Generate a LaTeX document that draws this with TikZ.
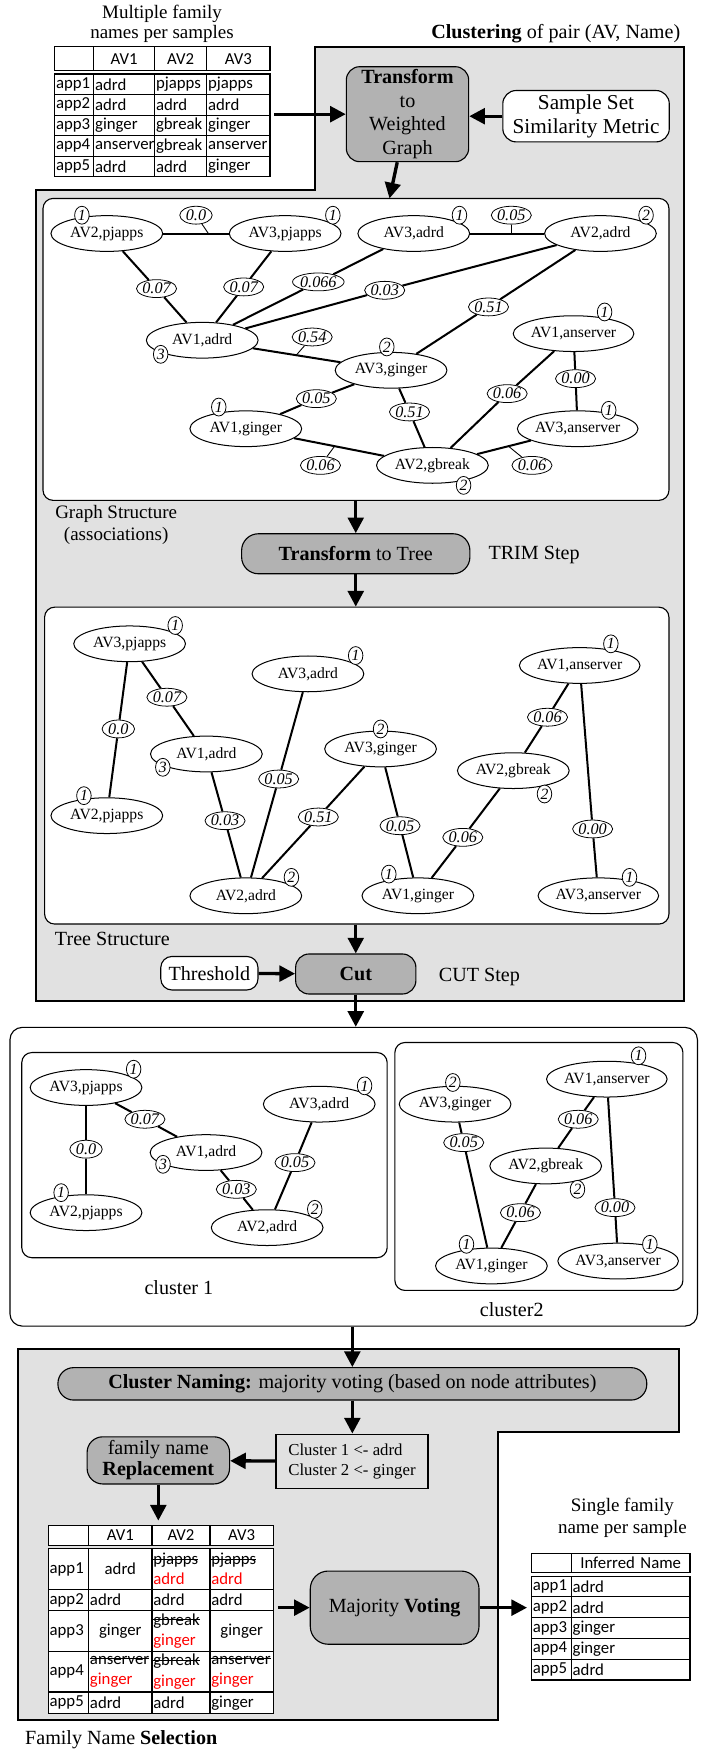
\documentclass[tikz,border=0pt]{standalone}
\usepackage{fontspec}
\setmainfont{Liberation Serif}
\newfontfamily\tabfont{Carlito}
\usetikzlibrary{shapes.geometric, arrows.meta, matrix}
\definecolor{panelgray}{RGB}{225,225,225}
\definecolor{stepgray}{RGB}{178,178,178}
\newlength{\strikelen}
\newcommand{\struck}[1]{\settowidth{\strikelen}{#1}\rlap{\rule[0.3em]{\strikelen}{0.9pt}}#1}
\tikzset{
  avnode/.style={ellipse, draw, line width=0.9pt, fill=white, inner xsep=0pt, inner ysep=2pt,
    minimum width=100, minimum height=32, font=\fontsize{14}{16}\selectfont},
  wlab/.style={ellipse, draw, line width=0.7pt, fill=white, inner sep=0pt, minimum width=29,
    minimum height=16, font=\fontsize{14.5}{15}\selectfont\itshape},
  badge/.style={ellipse, draw, line width=0.7pt, fill=white, inner sep=0pt, minimum width=13,
    minimum height=16, font=\fontsize{14}{15}\selectfont\itshape},
  link/.style={line width=1.8pt},
  tickline/.style={line width=0.8pt},
  arr/.style={line width=3pt, -{Triangle[length=14pt,width=14pt]}},
  panel/.style={draw, fill=panelgray, line width=1.8pt},
  inbox/.style={draw, fill=white, rounded corners=9pt, line width=1pt, inner sep=0pt},
  stepbox/.style={draw, fill=stepgray, rounded corners=12pt, line width=1pt, inner sep=1pt,
    align=center, font=\fontsize{18}{21}\selectfont},
  whitebox/.style={stepbox, fill=white},
  bigtxt/.style={inner sep=0pt, align=center, font=\fontsize{18}{20}\selectfont},
  tabcell/.style={draw, fill=white, line width=1pt, anchor=center, inner xsep=1.2pt, inner ysep=0pt,
    align=left, font=\tabfont\fontsize{15}{16.5}\selectfont},
}
\begin{document}
\begin{tikzpicture}[x=1pt, y=-1pt]
\useasboundingbox (0,0) rectangle (635,1568);

% panels
\draw[panel] (281.7,41.8) -- (612,41.8) -- (612,896) -- (32,896) -- (32,170.2) -- (281.7,170.2) -- cycle;
\draw[panel] (16.2,1207.6) -- (608,1207.6) -- (608,1282) -- (445.8,1282) -- (445.8,1539.4) -- (16.2,1539.4) -- cycle;

\node[inbox, minimum width=560.2, minimum height=270.2] (graphbox) at (318.6,312.7) {};
\node[inbox, minimum width=558.8, minimum height=283.6] (treebox) at (319.3,685.2) {};
\node[inbox, minimum width=615.3, minimum height=267.3, rounded corners=11pt] (clusters) at (316.55,1053.15) {};
\node[inbox, minimum width=327, minimum height=183.6] (clu1) at (183,1033.8) {};
\node[inbox, minimum width=257.8, minimum height=221.9] (clu2) at (482.3,1043.95) {};

% titles
\node[bigtxt, font=\fontsize{17}{18}\selectfont] (t1title) at (145,21) {Multiple family\\names per samples};
\node[bigtxt, anchor=east] (cltitle) at (609,30) {\textbf{Clustering} of pair (AV, Name)};
\node[bigtxt, font=\fontsize{17}{19.5}\selectfont] (gstruct) at (104,469.5) {Graph Structure\\(associations)};
\node[bigtxt, anchor=west] (trim) at (437,497) {TRIM Step};
\node[bigtxt, anchor=west] (tstruct) at (49,840.4) {Tree Structure};
\node[bigtxt, anchor=west] (cutstep) at (392.6,874.7) {CUT Step};
\node[bigtxt] (c1name) at (160.1,1152.5) {cluster 1};
\node[bigtxt] (c2name) at (458,1171.9) {cluster2};
\node[bigtxt, font=\fontsize{17}{19}\selectfont] (t3title) at (557,1358.5) {Single family\\name per sample};
\node[bigtxt, anchor=west] (fnsel) at (22.3,1556.6) {Family Name \textbf{Selection}};

% input table
\matrix (tab1) [matrix of nodes, nodes in empty cells, anchor=north west, column sep=-1pt, row sep=-1pt,
  nodes={tabcell, minimum height=18.4},
  row 1/.style={nodes={minimum height=21.5, align=center}},
  column 1/.style={nodes={text width=32.6}},
  column 2/.style={nodes={text width=52.1}},
  column 3/.style={nodes={text width=44.2}},
  column 4/.style={nodes={text width=54.2}}] at (44.9,37.7) {
       & AV1      & AV2    & AV3      \\[3pt]
  app1 &[3pt] adrd & pjapps & pjapps   \\
  app2 & adrd     & adrd   & adrd     \\
  app3 & ginger   & gbreak & ginger   \\
  app4 & anserver & gbreak & anserver \\
  app5 & adrd     & adrd   & ginger   \\
};

% steps
\node[stepbox, minimum width=109.5, minimum height=85] (transform) at (364.7,102.2) {\textbf{Transform}\\to\\Weighted\\Graph};
\node[whitebox, minimum width=149, minimum height=46, font=\fontsize{19}{21}\selectfont] (sample) at (524.5,104) {Sample Set\\Similarity Metric};
\node[stepbox, minimum width=204.3, minimum height=35.8, rounded corners=15pt] (ttt) at (318.4,495.6) {\textbf{Transform} to Tree};
\node[whitebox, minimum width=87, minimum height=30, rounded corners=10pt] (threshold) at (187.4,871) {Threshold};
\node[stepbox, minimum width=107.6, minimum height=35.8] (cut) at (318.4,871.7) {\textbf{Cut}};
\coordinate (gin) at (348.6,177.6);

% weighted graph
\node[avnode] (gpj2) at (95.6,209) {AV2,pjapps};
\node[avnode] (gpj3) at (255.2,209) {AV3,pjapps};
\node[avnode] (gad3) at (370.3,209) {AV3,adrd};
\node[avnode] (gad2) at (537.4,209) {AV2,adrd};
\node[avnode] (gad1) at (181,304.5) {AV1,adrd};
\node[avnode] (ggi3) at (350,331.4) {AV3,ginger};
\node[avnode] (gan1) at (513.3,298.6) {AV1,anserver};
\node[avnode] (ggi1) at (220,383.7) {AV1,ginger};
\node[avnode] (gan3) at (517,383.7) {AV3,anserver};
\node[avnode] (ggb2) at (387,416.5) {AV2,gbreak};

\node[wlab] (gw1) at (175.4,192.6) {0.0};
\node[wlab] (gw2) at (457.6,192.6) {0.05};
\node[wlab] (gw3) at (140.1,258.3) {0.07};
\node[wlab] (gw4) at (218.1,256.8) {0.07};
\node[wlab] (gw5) at (284.9,252.3) {0.066};
\node[wlab] (gw6) at (344.3,259.8) {0.03};
\node[wlab] (gw7) at (437.2,274.7) {0.51};
\node[wlab] (gw8) at (279.4,301.6) {0.54};
\node[wlab] (gw9) at (283.1,356.8) {0.05};
\node[wlab] (gw10) at (366.5,368.7) {0.51};
\node[wlab] (gw11) at (453.9,352.3) {0.06};
\node[wlab] (gw12) at (515.1,338.9) {0.00};
\node[wlab] (gw13) at (286.8,416.5) {0.06};
\node[wlab] (gw14) at (476.1,416.5) {0.06};
\coordinate (gk1) at (186.5,209);
\coordinate (gk2) at (457.6,209);
\coordinate (gk8) at (265,318);
\coordinate (gk13) at (299.5,399.3);
\coordinate (gk14) at (455,399.3);

\draw[link] (gpj2) -- (gpj3);
\draw[link] (gad3) -- (gad2);
\draw[link] (gpj2) -- (gw3) -- (gad1);
\draw[link] (gpj3) -- (gw4) -- (gad1);
\draw[link] (gad3) -- (gw5) -- (gad1);
\draw[link] (gad2) -- (gw6) -- (gad1);
\draw[link] (gad2) -- (gw7) -- (ggi3);
\draw[link] (gad1) -- (ggi3);
\draw[link] (ggi3) -- (gw9) -- (ggi1);
\draw[link] (ggi3) -- (gw10) -- (ggb2);
\draw[link] (gan1) -- (gw11) -- (ggb2);
\draw[link] (gan1) -- (gw12) -- (gan3);
\draw[link] (ggi1) -- (ggb2);
\draw[link] (gan3) -- (ggb2);
\draw[tickline] (gw1) -- (gk1);
\draw[tickline] (gw2) -- (gk2);
\draw[tickline] (gw8) -- (gk8);
\draw[tickline] (gw13) -- (gk13);
\draw[tickline] (gw14) -- (gk14);

\node[badge] (gb1) at (73.3,192.6) {1};
\node[badge] (gb2) at (297.9,192.6) {1};
\node[badge] (gb3) at (411.2,192.6) {1};
\node[badge] (gb4) at (578.2,192.6) {2};
\node[badge] (gb5) at (143.8,317.1) {3};
\node[badge] (gb6) at (346.2,310.5) {2};
\node[badge] (gb7) at (541.1,279.2) {1};
\node[badge] (gb8) at (195.8,364.3) {1};
\node[badge] (gb9) at (544.8,367.2) {1};
\node[badge] (gb10) at (414.9,434.4) {2};

% tree
\node[avnode] (tpj3) at (116,576.2) {AV3,pjapps};
\node[avnode] (tpj2) at (95.6,730) {AV2,pjapps};
\node[avnode] (tad1) at (184.7,674.8) {AV1,adrd};
\node[avnode] (tad3) at (275.6,603.1) {AV3,adrd};
\node[avnode] (tad2) at (220,801.7) {AV2,adrd};
\node[avnode] (tgi3) at (340.6,670.3) {AV3,ginger};
\node[avnode] (tgi1) at (374,801.7) {AV1,ginger};
\node[avnode] (tgb2) at (459.4,689.7) {AV2,gbreak};
\node[avnode] (tan1) at (518.8,595.6) {AV1,anserver};
\node[avnode] (tan3) at (535.5,801.7) {AV3,anserver};

\node[wlab] (tw1) at (105.9,652.4) {0.0};
\node[wlab] (tw2) at (149.4,624) {0.07};
\node[wlab] (tw3) at (201.4,734.5) {0.03};
\node[wlab] (tw4) at (249.4,697.2) {0.05};
\node[wlab] (tw5) at (284.9,731.2) {0.51};
\node[wlab] (tw6) at (358,739) {0.05};
\node[wlab] (tw7) at (414.2,749.4) {0.06};
\node[wlab] (tw8) at (490,641.9) {0.06};
\node[wlab] (tw9) at (530.4,741.9) {0.00};

\draw[link] (tpj3) -- (tw1) -- (tpj2);
\draw[link] (tpj3) -- (tw2) -- (tad1);
\draw[link] (tad1) -- (tw3) -- (tad2);
\draw[link] (tad3) -- (tw4) -- (tad2);
\draw[link] (tgi3) -- (tw5) -- (tad2);
\draw[link] (tgi3) -- (tw6) -- (tgi1);
\draw[link] (tgb2) -- (tw7) -- (tgi1);
\draw[link] (tan1) -- (tw8) -- (tgb2);
\draw[link] (tan1) -- (tw9) -- (tan3);

\node[badge] (tb1) at (156.8,559.8) {1};
\node[badge] (tb2) at (75.1,712.1) {1};
\node[badge] (tb3) at (145.7,686.7) {3};
\node[badge] (tb4) at (318.3,586.7) {1};
\node[badge] (tb5) at (260.8,785.2) {2};
\node[badge] (tb6) at (340.6,652.4) {2};
\node[badge] (tb7) at (348,782.3) {1};
\node[badge] (tb8) at (487.3,710.6) {2};
\node[badge] (tb9) at (546.7,576.2) {1};
\node[badge] (tb10) at (563.4,785.2) {1};

% clusters
\node[avnode] (cpj3) at (77,973.3) {AV3,pjapps};
\node[avnode] (cpj2) at (77,1085.3) {AV2,pjapps};
\node[avnode] (cad1) at (184.4,1031.5) {AV1,adrd};
\node[avnode] (cad3) at (285.7,988.2) {AV3,adrd};
\node[avnode] (cad2) at (239.1,1098.7) {AV2,adrd};
\node[avnode] (cgi3) at (407.3,988.2) {AV3,ginger};
\node[avnode] (can1) at (543.1,965.8) {AV1,anserver};
\node[avnode] (cgb2) at (488.4,1043.5) {AV2,gbreak};
\node[avnode] (cgi1) at (439.8,1133) {AV1,ginger};
\node[avnode] (can3) at (553.2,1128.6) {AV3,anserver};

\node[wlab] (cw1) at (77,1028.5) {0.0};
\node[wlab] (cw2) at (129.7,1001.7) {0.07};
\node[wlab] (cw3) at (211.5,1064.4) {0.03};
\node[wlab] (cw4) at (264,1040.5) {0.05};
\node[wlab] (cw5) at (415,1022.6) {0.05};
\node[wlab] (cw6) at (517.5,1001.7) {0.06};
\node[wlab] (cw7) at (465.8,1085.3) {0.06};
\node[wlab] (cw8) at (550.4,1080.8) {0.00};

\draw[link] (cpj3) -- (cw1) -- (cpj2);
\draw[link] (cpj3) -- (cw2) -- (cad1);
\draw[link] (cad1) -- (cw3) -- (cad2);
\draw[link] (cad3) -- (cw4) -- (cad2);
\draw[link] (cgi3) -- (cw5) -- (cgi1);
\draw[link] (can1) -- (cw6) -- (cgb2);
\draw[link] (cgb2) -- (cw7) -- (cgi1);
\draw[link] (can1) -- (cw8) -- (can3);

\node[badge] (cb1) at (119.6,956.9) {1};
\node[badge] (cb2) at (54.7,1067.4) {1};
\node[badge] (cb3) at (145.9,1042) {3};
\node[badge] (cb4) at (326.3,971.8) {1};
\node[badge] (cb5) at (281.7,1082.3) {2};
\node[badge] (cb6) at (405.3,968.8) {2};
\node[badge] (cb7) at (571.5,944.9) {1};
\node[badge] (cb8) at (516.8,1064.4) {2};
\node[badge] (cb9) at (417.5,1113.6) {1};
\node[badge] (cb10) at (581.6,1113.6) {1};

% family name selection
\node[stepbox, minimum width=527, minimum height=29, rounded corners=14pt] (naming) at (315.35,1238.5) {\textbf{Cluster Naming:} majority voting (based on node attributes)};
\node[draw, line width=1pt, fill=panelgray, minimum width=136, minimum height=49, align=left, font=\fontsize{15}{18}\selectfont] (clustxt) at (315,1308) {Cluster 1 <- adrd\\Cluster 2 <- ginger};
\node[stepbox, minimum width=127.5, minimum height=42.2, rounded corners=14pt, font=\fontsize{18}{19}\selectfont] (repl) at (141.7,1307) {family name\\\textbf{Replacement}};
\node[stepbox, minimum width=151, minimum height=65.5, rounded corners=16pt] (mv) at (353.2,1438.8) {Majority \textbf{Voting}};

\matrix (tab2) [matrix of nodes, nodes in empty cells, anchor=north west, column sep=-1pt, row sep=-1pt,
  nodes={tabcell, font=\tabfont\fontsize{15}{18}\selectfont},
  row 1/.style={nodes={minimum height=17.9, align=center}},
  row 2/.style={nodes={minimum height=36.9}},
  row 3/.style={nodes={minimum height=18.7}},
  row 4/.style={nodes={minimum height=36.4}},
  row 5/.style={nodes={minimum height=36.5}},
  row 6/.style={nodes={minimum height=19.4}},
  column 1/.style={nodes={text width=33.7}},
  column 2/.style={nodes={text width=54.3}},
  column 3/.style={nodes={text width=49.5}},
  column 4/.style={nodes={text width=54.4}}] at (39.2,1360.9) {
       & AV1 & AV2 & AV3 \\[3pt]
  app1 & |[align=center]| adrd & {\struck{pjapps}\\\textcolor{red}{adrd}} & {\struck{pjapps}\\\textcolor{red}{adrd}} \\
  app2 & adrd & adrd & adrd \\
  app3 & |[align=center]| ginger & {\struck{gbreak}\\\textcolor{red}{ginger}} & |[align=center]| ginger \\
  app4 & {\struck{anserver}\\\textcolor{red}{ginger}} & {\struck{gbreak}\\\textcolor{red}{ginger}} & {\struck{anserver}\\\textcolor{red}{ginger}} \\
  app5 & adrd & adrd & ginger \\
};

\matrix (tab3) [matrix of nodes, nodes in empty cells, anchor=north west, column sep=-1pt, row sep=-1pt,
  nodes={tabcell, minimum height=18.6},
  row 1/.style={nodes={minimum height=17.3, align=center}},
  column 1/.style={nodes={text width=33.2}},
  column 2/.style={nodes={text width=103.8}}] at (471.7,1386.2) {
       & Inferred Name \\[3pt]
  app1 & adrd \\
  app2 & adrd \\
  app3 & ginger \\
  app4 & ginger \\
  app5 & adrd \\
};

% arrows
\draw[arr] (tab1.east |- transform) -- (transform);
\draw[arr] (sample.west) -- (sample.west -| transform.east);
\draw[arr] (transform) -- (gin);
\draw[arr] (ttt |- graphbox.south) -- (ttt);
\draw[arr] (ttt) -- (ttt |- treebox.north);
\draw[arr] (cut |- treebox.south) -- (cut);
\draw[arr] (threshold) -- (cut);
\draw[arr] (cut) -- (cut |- clusters.north);
\draw[arr] (naming |- clusters.south) -- (naming);
\draw[arr] (naming) -- (naming |- clustxt.north);
\draw[arr] (clustxt) -- (repl);
\draw[arr] (repl) -- (repl |- tab2.north);
\draw[arr] (tab2.east |- mv) -- (mv);
\draw[arr] (mv) -- (mv -| tab3.west);
\end{tikzpicture}
\end{document}
